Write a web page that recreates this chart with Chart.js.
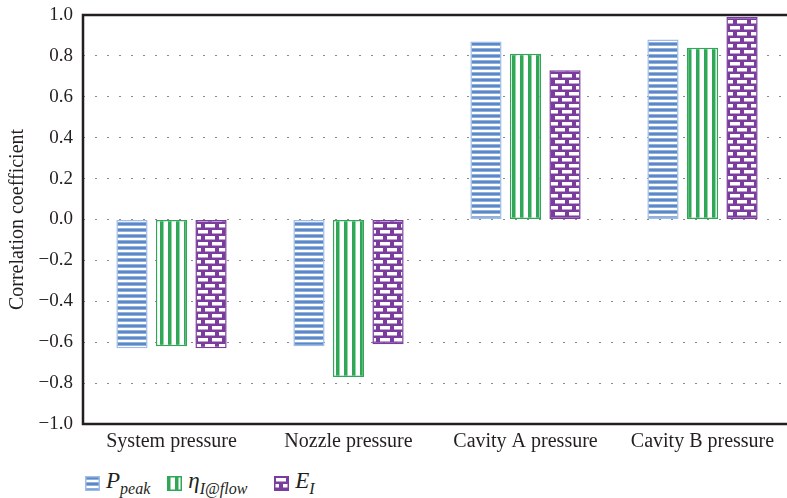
<!DOCTYPE html>
<html>
<head>
<meta charset="utf-8">
<script src="https://cdn.jsdelivr.net/npm/chart.js@4.4.1/dist/chart.umd.min.js"></script>
<style>
  body { margin: 0; background: #fff; overflow: hidden; }
  #wrap { position: absolute; left: 0; top: 0; width: 794px; height: 462px; }
  #legend { position: absolute; left: 85px; top: 468px; font-family: "Liberation Serif", serif; color: #231f20; display: flex; align-items: center; }
  #legend .item { display: flex; align-items: center; }
  #legend canvas { margin-right: 6px; }
  #legend .lbl { font-style: italic; font-size: 23px; }
  #legend sub { font-size: 16px; vertical-align: -6px; }
</style>
</head>
<body>
<div id="wrap"><canvas id="barChart"></canvas></div>
<div id="legend">
  <div class="item" style="margin-right:17px"><canvas id="sw0" width="15" height="15"></canvas><span class="lbl">P<sub>peak</sub></span></div>
  <div class="item" style="margin-right:27px"><canvas id="sw1" width="15" height="15"></canvas><span class="lbl">η<sub>I@flow</sub></span></div>
  <div class="item"><canvas id="sw2" width="15" height="15"></canvas><span class="lbl">E<sub>I</sub></span></div>
</div>
<script>
// Data
const categories = ['System pressure', 'Nozzle pressure', 'Cavity A pressure', 'Cavity B pressure'];
const pPeak = [-0.63, -0.62, 0.87, 0.88];
const etaFlow = [-0.62, -0.77, 0.81, 0.84];
const eI = [-0.63, -0.61, 0.73, 0.99];
const yTicks = [-1.0, -0.8, -0.6, -0.4, -0.2, 0.0, 0.2, 0.4, 0.6, 0.8, 1.0];

const blue = '#5b89c7', blueEdge = '#9fbde6';
const green = '#2fa757';
const purple = '#7a3d9d';

// Fill patterns
function stripesH() {
    const c = document.createElement('canvas');
    c.width = 8; c.height = 6;
    const g = c.getContext('2d');
    g.fillStyle = '#fff'; g.fillRect(0, 0, 8, 6);
    g.fillStyle = '#c9d9f0'; g.fillRect(0, 0, 8, 4);
    g.fillStyle = blue; g.fillRect(0, 0.5, 8, 3);
    return g.createPattern(c, 'repeat');
}
function stripesV() {
    const c = document.createElement('canvas');
    c.width = 8; c.height = 8;
    const g = c.getContext('2d');
    g.fillStyle = '#fff'; g.fillRect(0, 0, 8, 8);
    g.fillStyle = green; g.fillRect(0, 0, 3.5, 8);
    return g.createPattern(c, 'repeat');
}
function bricks() {
    const c = document.createElement('canvas');
    c.width = 14; c.height = 12;
    const g = c.getContext('2d');
    g.fillStyle = purple; g.fillRect(0, 0, 14, 12);
    g.fillStyle = '#fff';
    g.fillRect(2, 2, 10, 3.5);
    g.fillRect(9, 8, 5, 3.5);
    g.fillRect(0, 8, 5, 3.5);
    return g.createPattern(c, 'repeat');
}

const fills = [stripesH(), stripesV(), bricks()];
const edges = [blueEdge, green, purple];

// Legend swatches
fills.forEach((f, i) => {
    const g = document.getElementById('sw' + i).getContext('2d');
    g.fillStyle = f; g.fillRect(0, 0, 15, 15);
    g.strokeStyle = edges[i]; g.lineWidth = 1.5; g.strokeRect(0.75, 0.75, 13.5, 13.5);
});

// Frame around the plot area
const frame = {
    id: 'frame',
    afterDraw(chart) {
        const a = chart.chartArea, ctx = chart.ctx;
        ctx.save();
        ctx.strokeStyle = '#231f20';
        ctx.lineWidth = 2.5;
        ctx.strokeRect(a.left, a.top, a.right - a.left, a.bottom - a.top);
        ctx.restore();
    }
};

const serif = '"Liberation Serif", "DejaVu Serif", serif';

new Chart(document.getElementById('barChart'), {
    type: 'bar',
    data: {
        labels: categories,
        datasets: [pPeak, etaFlow, eI].map((d, i) => ({
            label: ['P_peak', 'η_I@flow', 'E_I'][i],
            data: d,
            backgroundColor: fills[i],
            borderColor: edges[i],
            borderWidth: 1.5,
            borderSkipped: false,
            categoryPercentage: 0.67,
            barPercentage: 0.79
        }))
    },
    options: {
        responsive: true,
        maintainAspectRatio: false,
        animation: false,
        layout: { padding: { top: 15, right: 3, left: 0, bottom: 0 } },
        plugins: { legend: { display: false }, tooltip: { enabled: false } },
        scales: {
            x: {
                grid: { display: false, drawTicks: false },
                border: { display: false },
                ticks: { color: '#231f20', font: { family: serif, size: 20 }, padding: 6, maxRotation: 0 },
                afterFit: s => { s.height = 38; s.paddingLeft = 0; s.paddingRight = 0; }
            },
            y: {
                min: -1, max: 1,
                afterBuildTicks: s => { s.ticks = yTicks.map(v => ({ value: v })); },
                afterFit: s => { s.width = 83; s.paddingTop = 0; s.paddingBottom = 0; },
                grid: { color: '#8a8a8a', lineWidth: 1, drawTicks: false },
                border: { display: false, dash: [2, 10] },
                ticks: {
                    color: '#231f20', font: { family: serif, size: 19 }, padding: 10,
                    callback: v => (v < 0 ? '\u2212' : '') + Math.abs(v).toFixed(1)
                },
                title: { display: true, text: 'Correlation coefficient', color: '#231f20', font: { family: serif, size: 20 }, padding: { top: 6, bottom: 0 } }
            }
        }
    },
    plugins: [frame]
});
</script>
</body>
</html>
